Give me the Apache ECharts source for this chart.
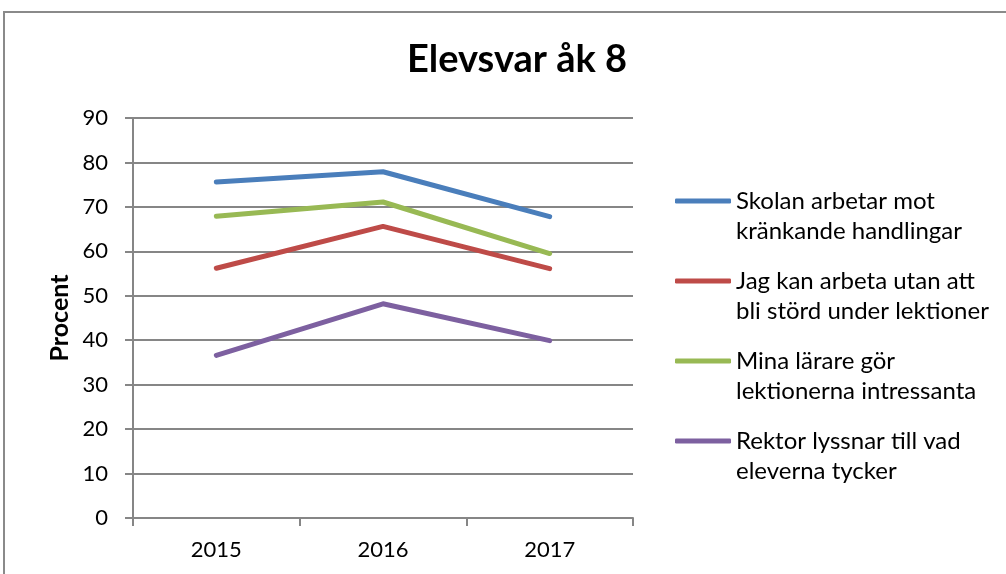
<!DOCTYPE html>
<html>
<head>
    <meta charset="utf-8">
    <title>Elevsvar åk 8</title>
    <style>
        body { margin: 0; background: #fff; }
        #main { width: 1006px; height: 574px; }
    </style>
</head>
<body>
<div id="main"></div>

<script src="https://cdn.jsdelivr.net/npm/echarts@6/dist/echarts.min.js"></script>
<script>
    // data
    var years = ['2015', '2016', '2017'];
    var seriesNames = [
        'Skolan arbetar mot\nkränkande handlingar',
        'Jag kan arbeta utan att\nbli störd under lektioner',
        'Mina lärare gör\nlektionerna intressanta',
        'Rektor lyssnar till vad\neleverna tycker'
    ];
    var skolan = [75.6, 77.9, 67.8];
    var storning = [56.2, 65.6, 56.1];
    var larare = [67.9, 71.1, 59.5];
    var rektor = [36.6, 48.2, 39.9];
    var colors = ['#4A7EBB', '#BE4B48', '#98B954', '#7D60A0'];

    var font = 'Lato, "Liberation Sans", sans-serif';
    var values = [skolan, storning, larare, rektor];

    var myChart = echarts.init(document.getElementById('main'));

    var series = [];
    for (var i = 0; i < values.length; i++) {
        series.push({
            name: seriesNames[i],
            type: 'line',
            data: values[i],
            symbol: 'none',
            lineStyle: { width: 5, color: colors[i], cap: 'round', join: 'round' },
            itemStyle: { color: colors[i] }
        });
    }

    myChart.setOption({
        animation: false,
        color: colors,
        title: {
            text: 'Elevsvar åk 8',
            left: 512,
            top: 36,
            textAlign: 'center',
            textStyle: { fontFamily: font, fontSize: 38, fontWeight: 'bold', color: '#000' }
        },
        graphic: [{
            type: 'rect',
            shape: { x: 4, y: 12, width: 1100, height: 700 },
            style: { fill: null, stroke: '#8a8a8a', lineWidth: 2 },
            silent: true
        }],
        legend: {
            orient: 'vertical',
            left: 670,
            top: 151,
            itemWidth: 56,
            itemHeight: 5,
            itemGap: -10,
            icon: 'roundRect',
            // empty first line so the icon sits beside the first text line
            formatter: function (name) { return '\n' + name; },
            textStyle: {
                fontFamily: font,
                fontSize: 24,
                lineHeight: 30,
                color: '#000'
            },
            data: seriesNames
        },
        grid: { left: 133, right: 373, top: 118, bottom: 56 },
        xAxis: {
            type: 'category',
            data: years,
            boundaryGap: true,
            axisLine: { lineStyle: { color: '#868686', width: 2 } },
            axisTick: { show: true, length: 8, lineStyle: { color: '#868686', width: 2 } },
            axisLabel: { fontFamily: font, fontSize: 22, color: '#000', margin: 21 }
        },
        yAxis: {
            type: 'value',
            min: 0,
            max: 90,
            interval: 10,
            name: 'Procent',
            nameLocation: 'middle',
            nameGap: 61,
            nameTextStyle: { fontFamily: font, fontSize: 25, fontWeight: 'bold', color: '#000' },
            axisLine: { show: true, lineStyle: { color: '#868686', width: 2 } },
            axisTick: { show: true, length: 8, lineStyle: { color: '#868686', width: 2 } },
            axisLabel: { fontFamily: font, fontSize: 22, color: '#000', margin: 25 },
            splitLine: { lineStyle: { color: '#868686', width: 2 } }
        },
        series: series
    });
</script>
</body>
</html>
